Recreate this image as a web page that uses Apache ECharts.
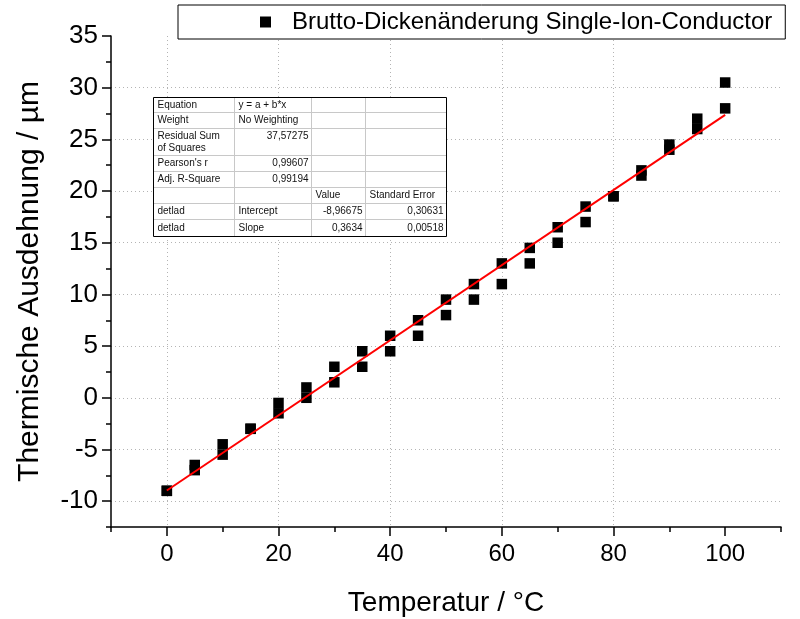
<!DOCTYPE html>
<html>
<head>
<meta charset="utf-8">
<script src="https://cdn.jsdelivr.net/npm/echarts@6/dist/echarts.min.js"></script>
<style>
  html, body { margin: 0; padding: 0; background: #fff; }
  #chart { width: 800px; height: 619px; }
</style>
</head>
<body>
<div id="chart"></div>
<script>
// Measured thickness change of the single-ion conductor vs. temperature (two readings per step)
const temperatures = [0, 5, 10, 15, 20, 25, 30, 35, 40, 45, 50, 55, 60, 65, 70, 75, 80, 85, 90, 95, 100];
const expansionRun1 = [-9, -6.5, -4.5, -3, -0.5, 1, 3, 4.5, 6, 7.5, 9.5, 11, 13, 14.5, 16.5, 18.5, 19.5, 22, 24.5, 27, 30.5];
const expansionRun2 = [-9, -7, -5.5, -3, -1.5, 0, 1.5, 3, 4.5, 6, 8, 9.5, 11, 13, 15, 17, 19.5, 21.5, 24, 26, 28];

// Linear fit y = a + b*x
const fitIntercept = -8.96675;
const fitSlope = 0.3634;
const fitRange = [0, 100];

// Axis ticks
const xMajorTicks = [0, 20, 40, 60, 80, 100];
const yMajorTicks = [-10, -5, 0, 5, 10, 15, 20, 25, 30, 35];

const seriesName = 'Brutto-Dickenänderung Single-Ion-Conductor';

// Fit report table rows
const fitTableRows = [
  ['Equation', 'y = a + b*x', '', ''],
  ['Weight', 'No Weighting', '', ''],
  ['Residual Sum\nof Squares', '37,57275', '', ''],
  ["Pearson's r", '0,99607', '', ''],
  ['Adj. R-Square', '0,99194', '', ''],
  ['', '', 'Value', 'Standard Error'],
  ['detlad', 'Intercept', '-8,96675', '0,30631'],
  ['detlad', 'Slope', '0,3634', '0,00518']
];

const FONT = 'Liberation Sans, Arial, Helvetica, sans-serif';

// Table layout
const colEdges = [153.5, 234.5, 311.5, 365.5, 446.5];
const rowEdges = [97.5, 112.5, 128.5, 155.5, 171.5, 187.5, 203.5, 219.5, 236.5];

function buildTable() {
  const els = [];
  els.push({
    type: 'rect', z: 10,
    shape: { x: colEdges[0], y: rowEdges[0], width: colEdges[4] - colEdges[0], height: rowEdges[8] - rowEdges[0] },
    style: { fill: '#fff', stroke: null }
  });
  for (let i = 1; i < rowEdges.length - 1; i++) {
    els.push({ type: 'line', z: 11,
      shape: { x1: colEdges[0], y1: rowEdges[i], x2: colEdges[4], y2: rowEdges[i] },
      style: { stroke: '#c8c8c8', lineWidth: 1 } });
  }
  for (let j = 1; j < colEdges.length - 1; j++) {
    els.push({ type: 'line', z: 11,
      shape: { x1: colEdges[j], y1: rowEdges[0], x2: colEdges[j], y2: rowEdges[8] },
      style: { stroke: '#c8c8c8', lineWidth: 1 } });
  }
  els.push({
    type: 'rect', z: 12,
    shape: { x: colEdges[0], y: rowEdges[0], width: colEdges[4] - colEdges[0], height: rowEdges[8] - rowEdges[0] },
    style: { fill: null, stroke: '#000', lineWidth: 1 }
  });
  fitTableRows.forEach((row, r) => {
    row.forEach((cell, c) => {
      if (!cell) return;
      const numeric = /^-?[\d,]+$/.test(cell);
      const multi = rowEdges[r + 1] - rowEdges[r] > 20;
      const x = numeric ? colEdges[c + 1] - 3 : colEdges[c] + 4;
      const y = multi && numeric ? rowEdges[r] + 7.5 : (rowEdges[r] + rowEdges[r + 1]) / 2;
      els.push({
        type: 'text', z: 13, x: x, y: y,
        style: {
          text: cell, fill: '#111', font: '10px ' + FONT, lineHeight: 12,
          textAlign: numeric ? 'right' : 'left', textVerticalAlign: 'middle'
        }
      });
    });
  });
  return els;
}

const scatterData = temperatures.map((t, i) => [t, expansionRun1[i]])
  .concat(temperatures.map((t, i) => [t, expansionRun2[i]]));
const fitData = fitRange.map(x => [x, fitIntercept + fitSlope * x]);

const chart = echarts.init(document.getElementById('chart'), null, { renderer: 'canvas' });

const axisLineStyle = { color: '#000', width: 1.5 };
const gridLineStyle = { color: '#b4b4b4', width: 1, type: [1, 3] };

chart.setOption({
  animation: false,
  backgroundColor: '#fff',
  textStyle: { fontFamily: FONT },
  grid: { left: 111, right: 19, top: 36, bottom: 92, containLabel: false, outerBoundsMode: 'none' },
  legend: {
    data: [seriesName],
    left: 178, top: 5,
    padding: [5, 13, 5, 82],
    itemWidth: 11, itemHeight: 11,
    icon: 'rect',
    backgroundColor: '#fff',
    borderColor: '#000', borderWidth: 1, borderRadius: 0,
    textStyle: { fontSize: 24, color: '#000', fontFamily: FONT, padding: [0, 0, 0, 16] }
  },
  xAxis: [
    {
      type: 'value', min: -10, max: 110, position: 'bottom',
      name: 'Temperatur / °C', nameLocation: 'middle', nameGap: 62,
      nameTextStyle: { fontSize: 28, color: '#000', fontFamily: FONT },
      axisLine: { show: true, onZero: false, lineStyle: axisLineStyle },
      axisTick: { show: true, inside: false, length: 9, customValues: xMajorTicks, lineStyle: axisLineStyle },
      axisLabel: { show: true, customValues: xMajorTicks, fontSize: 24, color: '#000', margin: 15, fontFamily: FONT },
      splitLine: { show: true, showMinLine: true, showMaxLine: false, lineStyle: gridLineStyle }
    },
    {
      type: 'value', min: -10, max: 110, interval: 10, position: 'bottom',
      axisLine: { show: false, onZero: false },
      axisTick: { show: true, inside: false, length: 5, lineStyle: axisLineStyle },
      axisLabel: { show: false },
      splitLine: { show: false }
    }
  ],
  yAxis: [
    {
      type: 'value', min: -12.5, max: 35, position: 'left',
      name: 'Thermische Ausdehnung / µm', nameLocation: 'middle', nameGap: 66,
      nameTextStyle: { fontSize: 30, color: '#000', fontFamily: FONT },
      axisLine: { show: true, onZero: false, lineStyle: axisLineStyle },
      axisTick: { show: true, inside: false, length: 9, customValues: yMajorTicks, lineStyle: axisLineStyle },
      axisLabel: { show: true, customValues: yMajorTicks, fontSize: 26, color: '#000', margin: 13, fontFamily: FONT },
      splitLine: { show: true, showMinLine: true, showMaxLine: false, lineStyle: gridLineStyle }
    },
    {
      type: 'value', min: -12.5, max: 35, interval: 2.5, position: 'left',
      axisLine: { show: false, onZero: false },
      axisTick: { show: true, inside: false, length: 5, lineStyle: axisLineStyle },
      axisLabel: { show: false },
      splitLine: { show: false }
    }
  ],
  series: [
    {
      name: seriesName, type: 'scatter', xAxisIndex: 0, yAxisIndex: 0,
      symbol: 'rect', symbolSize: 10.5,
      itemStyle: { color: '#000', opacity: 1 },
      data: scatterData, z: 3
    },
    {
      name: 'fit', type: 'line', xAxisIndex: 0, yAxisIndex: 0,
      showSymbol: false, symbol: 'none',
      lineStyle: { color: '#ff0000', width: 2 },
      data: fitData, z: 4
    }
  ],
  graphic: { elements: buildTable() }
});
</script>
</body>
</html>
